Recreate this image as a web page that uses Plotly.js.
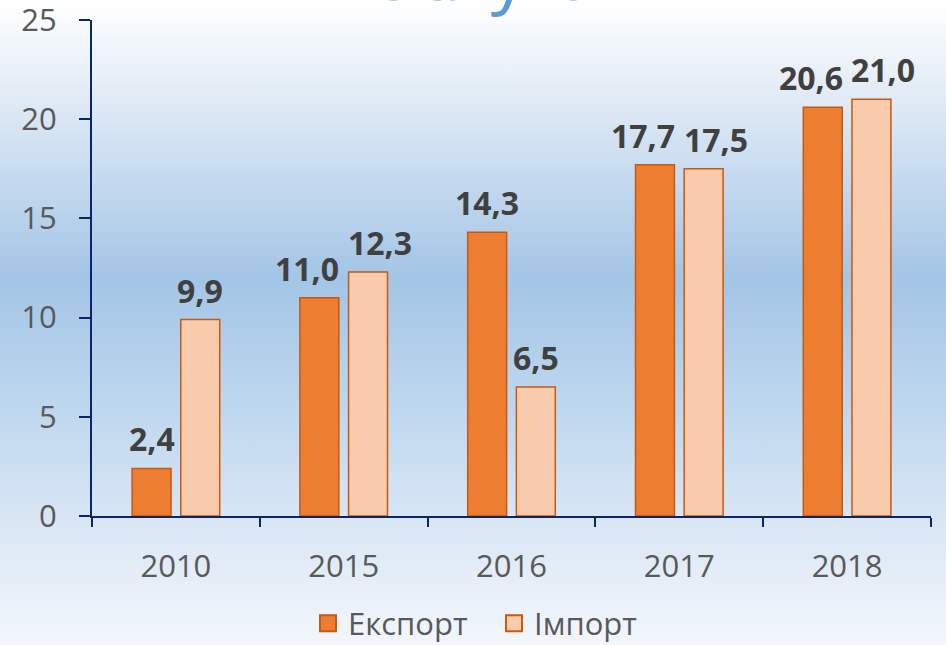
<!DOCTYPE html>
<html>
<head>
<meta charset="utf-8">
<script src="https://cdn.plot.ly/plotly-3.0.1.min.js"></script>
<style>
  html, body { margin: 0; padding: 0; }
  body {
    width: 946px; height: 645px; overflow: hidden;
    background: linear-gradient(to bottom, #ffffff 0%, #dbe7f4 18%, #a3c5e6 43%, #bcd6ee 62%, #dbe7f5 82%, #f3f7fc 100%);
  }
  #chart { width: 946px; height: 645px; }
</style>
</head>
<body>
<div id="chart"></div>
<script>
const years = ['2010', '2015', '2016', '2017', '2018'];
const exportValues = [2.4, 11.0, 14.3, 17.7, 20.6];
const importValues = [9.9, 12.3, 6.5, 17.5, 21.0];
const seriesNames = ['Експорт', 'Імпорт'];
const titleText = 'послугами';

const exportFill = '#ED7D31', importFill = '#F8CBAD', barEdge = '#C55A11';
const labelFont = { family: 'Open Sans, sans-serif', size: 32, color: '#404040', weight: 'bold' };
const BARGAP = 0.42;

const traces = [
  {
    type: 'bar', name: seriesNames[0], x: years, y: exportValues, showlegend: false,
    marker: { color: exportFill, line: { color: barEdge, width: 1.5 } }
  },
  {
    type: 'bar', name: seriesNames[1], x: years, y: importValues, showlegend: false,
    marker: { color: importFill, line: { color: barEdge, width: 1.5 } }
  },
  // legend-only entries (no drawn point) to get larger square swatches
  { type: 'scatter', mode: 'markers', name: seriesNames[0], x: [years[0]], y: [null], showlegend: true,
    marker: { symbol: 'square', size: 22, color: exportFill, line: { color: barEdge, width: 2 } } },
  { type: 'scatter', mode: 'markers', name: seriesNames[1], x: [years[0]], y: [null], showlegend: true,
    marker: { symbol: 'square', size: 22, color: importFill, line: { color: barEdge, width: 2 } } }
];

// value labels: anchored at each bar's data position; pushed apart when the pair is nearly equal
const halfSlot = (1 - BARGAP) / 4;   // bar-centre offset from category centre, in category units
const labels = [];
years.forEach((yr, i) => {
  const close = Math.abs(exportValues[i] - importValues[i]) < 3;
  const nudge = close ? 12 : 0;
  labels.push({ x: i - halfSlot, y: exportValues[i], text: exportValues[i].toFixed(1).replace('.', ','),
    xref: 'x', yref: 'y', xanchor: 'center', yanchor: 'bottom', xshift: -nudge, yshift: 6,
    showarrow: false, font: labelFont });
  labels.push({ x: i + halfSlot, y: importValues[i], text: importValues[i].toFixed(1).replace('.', ','),
    xref: 'x', yref: 'y', xanchor: 'center', yanchor: 'bottom', xshift: nudge, yshift: 6,
    showarrow: false, font: labelFont });
});

const axisColor = '#0B2569';
const layout = {
  width: 946, height: 645,
  paper_bgcolor: 'rgba(0,0,0,0)', plot_bgcolor: 'rgba(0,0,0,0)',
  separators: ', ',
  margin: { l: 92, r: 15, t: 20, b: 129 },
  font: { family: 'Open Sans, sans-serif', color: '#595959', size: 31 },
  barmode: 'group', bargap: BARGAP, bargroupgap: 0.2,
  showlegend: true,
  legend: { orientation: 'h', x: 0.3256, xanchor: 'left', xref: 'container', yref: 'container', y: 0.033, yanchor: 'middle',
            font: { size: 31, color: '#595959' }, bgcolor: 'rgba(0,0,0,0)', itemsizing: 'trace',
            entrywidth: 141, entrywidthmode: 'pixels' },
  xaxis: {
    type: 'category', showline: true, linecolor: axisColor, linewidth: 2,
    ticks: 'outside', tickson: 'boundaries', ticklen: 9, tickcolor: axisColor, tickwidth: 2,
    showgrid: false, zeroline: false, ticklabelstandoff: 22, automargin: false,
    tickfont: { size: 31, color: '#595959' }
  },
  yaxis: {
    range: [0, 25], dtick: 5, showline: true, linecolor: axisColor, linewidth: 2,
    ticks: 'outside', ticklen: 11, tickcolor: axisColor, tickwidth: 2,
    showgrid: false, zeroline: false, ticklabelstandoff: 16, automargin: false,
    ticklabeloverflow: 'allow',
    tickfont: { size: 31, color: '#595959' }
  },
  annotations: [
    { text: titleText, xref: 'paper', yref: 'paper', x: 0.5, y: 1, xanchor: 'center', yanchor: 'bottom',
      yshift: -3, showarrow: false, font: { family: 'Open Sans, sans-serif', size: 72, color: '#5B9BD5' } }
  ].concat(labels)
};

Plotly.newPlot('chart', traces, layout, { staticPlot: true, displayModeBar: false });
</script>
</body>
</html>
